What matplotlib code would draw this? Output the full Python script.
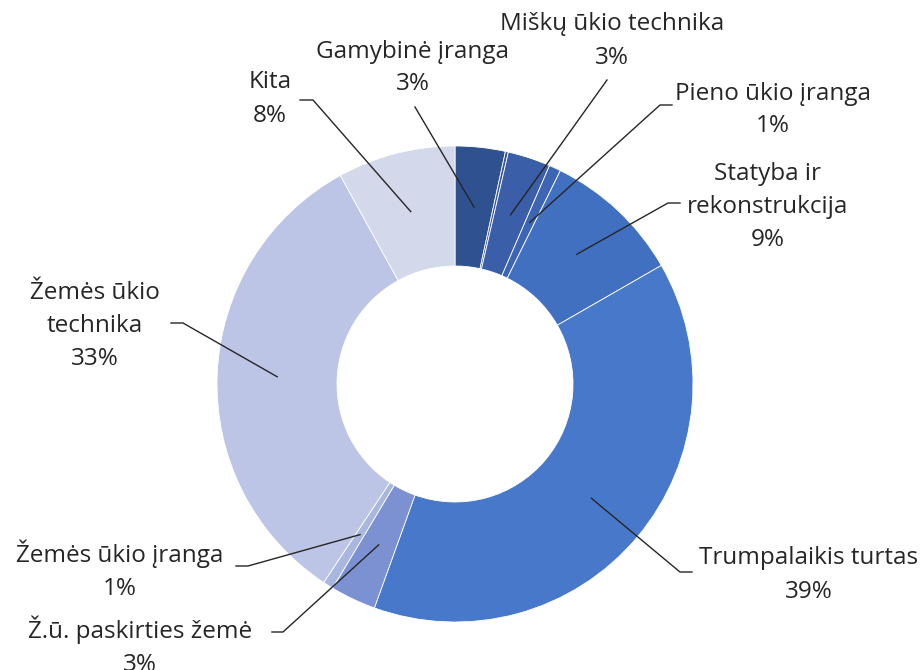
import matplotlib.pyplot as plt
import numpy as np

plt.rcParams['font.family'] = ['Open Sans', 'DejaVu Sans']

# slices clockwise from 12 o'clock
categories = ['Gamybinė įranga', '', 'Miškų ūkio technika', 'Pieno ūkio įranga',
              'Statyba ir\nrekonstrukcija', 'Trumpalaikis turtas',
              'Ž.ū. paskirties žemė', 'Žemės ūkio įranga',
              'Žemės ūkio\ntechnika', 'Kita']
values = [3.4, 0.2, 2.9, 0.8, 9.4, 38.8, 3.1, 0.7, 32.7, 8.0]
pct_labels = ['3%', '', '3%', '1%', '9%', '39%', '3%', '1%', '33%', '8%']
colors = ['#2f5190', '#35589c', '#3a5ea7', '#3e65b3', '#4270c0', '#4878c9',
          '#7b91d1', '#a9b6df', '#bcc5e5', '#d3d8eb']

# label placement (pixels from top-left): text centre, leader end, shoulder end
label_pos = {
    0: ((413, 68), (415, 107), None),
    2: ((612, 41), (607, 80), None),
    3: ((773, 110), (660, 105), (672, 105)),
    4: ((768, 207), (668, 203), (680, 203)),
    5: ((809, 575), (680, 572), (692, 572)),
    6: ((140, 646), (283, 632), (272, 632)),
    7: ((120, 570), (248, 566), (236, 566)),
    8: ((95, 326), (183, 323), (171, 323)),
    9: ((270, 99), (313, 100), (300, 100)),
}

W, H = 924, 670
cx, cy = 455, 384
R, ring = 238, 120

fig = plt.figure(figsize=(9.24, 6.70), dpi=100)
ax = fig.add_axes([0, 0, 1, 1])

wedges, _ = ax.pie(values, colors=colors, startangle=90, counterclock=False,
                   center=(cx, H - cy), radius=R,
                   wedgeprops=dict(width=ring, edgecolor='white', linewidth=0.6))

ax.set_xlim(0, W)
ax.set_ylim(0, H)
ax.set_aspect('equal')
ax.axis('off')

for i, w in enumerate(wedges):
    if i not in label_pos:
        continue
    (tx, ty), (ex, ey), shoulder = label_pos[i]
    ang = np.deg2rad((w.theta1 + w.theta2) / 2)
    rm = R - ring / 2
    ax_x = cx + rm * np.cos(ang)
    ax_y = (H - cy) + rm * np.sin(ang)
    xs = [ax_x, ex]
    ys = [ax_y, H - ey]
    if shoulder is not None:
        xs.append(shoulder[0])
        ys.append(H - shoulder[1])
    ax.plot(xs, ys, color='#262626', linewidth=1.0)
    ax.text(tx, H - ty, categories[i] + '\n' + pct_labels[i], ha='center', va='center',
            multialignment='center', fontsize=17.5, color='#262626', linespacing=1.5)

fig.savefig('out.png', dpi=100)
